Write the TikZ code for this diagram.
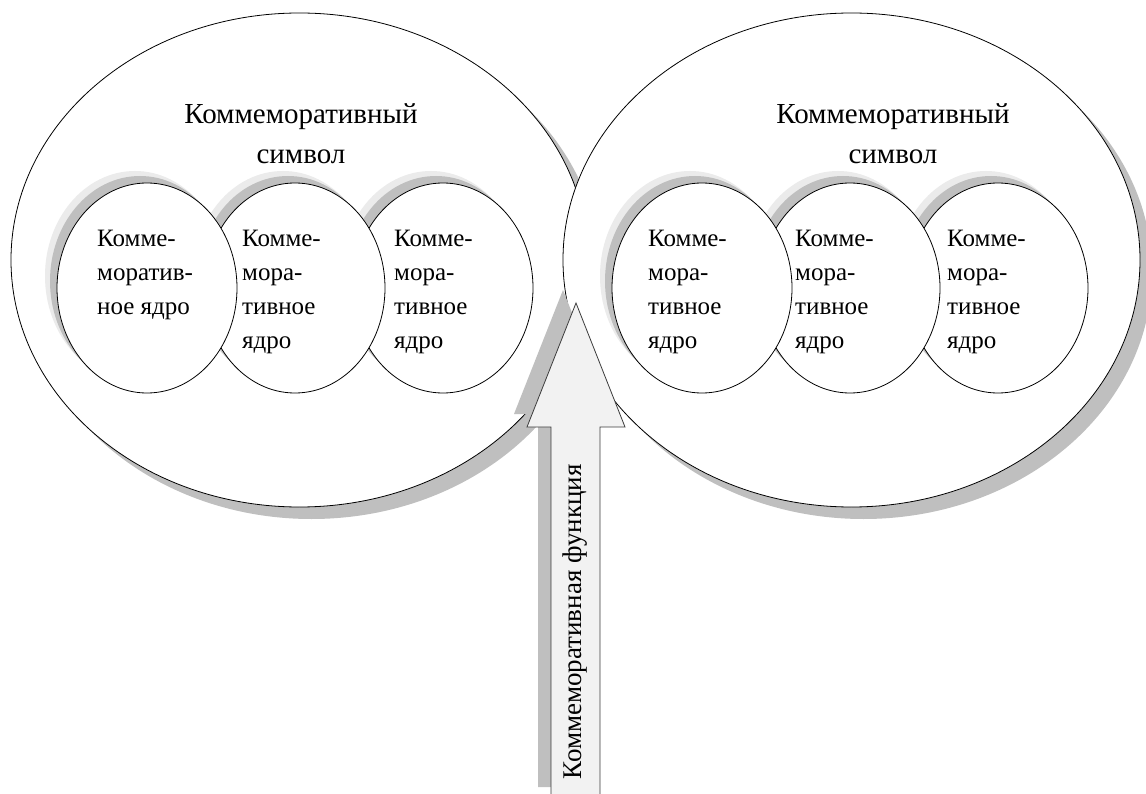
\documentclass[tikz,border=0pt]{standalone}
\usepackage{fontspec}
\setmainfont{Liberation Serif}
\usetikzlibrary{shapes.geometric, shadows}
\definecolor{shddark}{HTML}{BFBFBF}
\definecolor{shdlight}{HTML}{EBEBEB}
\definecolor{arrfill}{HTML}{F2F2F2}
\definecolor{arredge}{HTML}{3C3C3C}

\begin{document}
\begin{tikzpicture}[x=1pt, y=-1pt,
  symb/.style={ellipse, draw=black, fill=white, line width=0.8pt, inner sep=0pt,
               minimum width=577pt, minimum height=494pt,
               general shadow={shadow xshift=12pt, shadow yshift=-12pt, fill=shddark}},
  core/.style={ellipse, draw=black, fill=white, line width=0.8pt, inner sep=0pt,
               minimum width=180pt, minimum height=210pt,
               general shadow={shadow xshift=-12pt, shadow yshift=12pt, fill=shdlight},
               general shadow={shadow xshift=-7pt, shadow yshift=7pt, fill=shddark}},
  ttl/.style={align=center, inner sep=0pt, anchor=north, font=\fontsize{29}{40}\selectfont},
  lab/.style={align=left, inner sep=0pt, anchor=north west, font=\fontsize{25}{34}\selectfont},
  fn/.style={rotate=90, inner sep=0pt, font=\fontsize{27}{30}\selectfont},
]
\useasboundingbox (0,0) rectangle (1146,794);
% two commemorative symbols (the right one lies on top)
\node[symb] (symL) at (299.5,260) {};
\node[symb] (symR) at (851.5,260) {};
% commemorative cores, drawn right to left so the left one lies on top
\foreach \cx/\nm in {443/L3, 295/L2, 147/L1, 998/R3, 850/R2, 702/R1}
  \node[core] (core\nm) at (\cx,288) {};
% symbol titles
\node[ttl] (ttlL) at (301,103) {Коммеморативный\\символ};
\node[ttl] (ttlR) at (893,103) {Коммеморативный\\символ};
% core labels
\node[lab] (labL1) at (97,230)  {Комме-\\моратив-\\ное ядро};
\node[lab] (labL2) at (242,230) {Комме-\\мора-\\тивное\\ядро};
\node[lab] (labL3) at (394,230) {Комме-\\мора-\\тивное\\ядро};
\node[lab] (labR1) at (648,230) {Комме-\\мора-\\тивное\\ядро};
\node[lab] (labR2) at (795,230) {Комме-\\мора-\\тивное\\ядро};
\node[lab] (labR3) at (947,230) {Комме-\\мора-\\тивное\\ядро};
% block arrow of the commemorative function, with its shadow
\fill[shddark, xshift=-13pt, yshift=13pt] (551,800) -- (551,427) -- (527,427) -- (576,303)
  -- (625,427) -- (600,427) -- (600,800) -- cycle;
\draw[arredge, fill=arrfill, line width=0.8pt] (551,800) -- (551,427) -- (527,427) -- (576,303)
  -- (625,427) -- (600,427) -- (600,800) -- cycle;
\node[fn] (fnc) at (575,622) {Коммеморативная функция};
\end{tikzpicture}
\end{document}
